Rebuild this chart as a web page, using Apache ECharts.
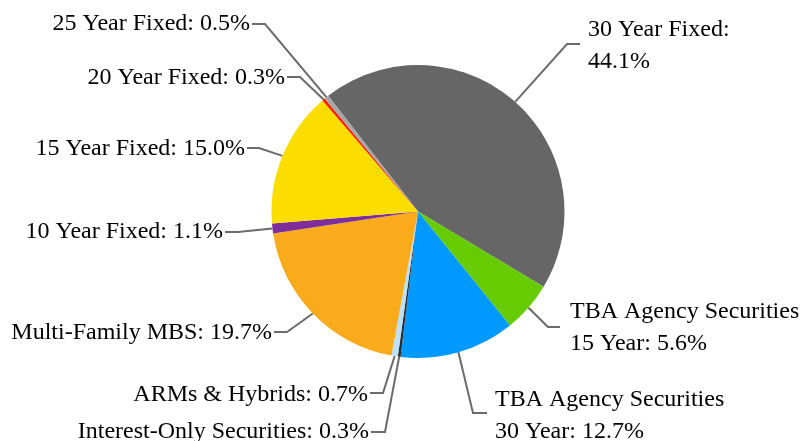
<!DOCTYPE html>
<html>
<head>
<meta charset="utf-8">
<script src="https://cdn.jsdelivr.net/npm/echarts@6/dist/echarts.min.js"></script>
<style>
html,body{margin:0;padding:0;background:#fff;}
#chart{width:800px;height:441px;}
</style>
</head>
<body>
<div id="chart"></div>
<script>
// ---- data ----
var categories = [
  '30 Year Fixed',
  'TBA Agency Securities\n15 Year',
  'TBA Agency Securities\n30 Year',
  'Interest-Only Securities',
  'ARMs & Hybrids',
  'Multi-Family MBS',
  '10 Year Fixed',
  '15 Year Fixed',
  '20 Year Fixed',
  '25 Year Fixed'
];
var values = [44.1, 5.6, 12.7, 0.3, 0.7, 19.7, 1.1, 15.0, 0.3, 0.5];

// ---- styles ----
var colors = ['#666666', '#66CC00', '#0099FF', '#2b2b2b', '#BDE0F7',
              '#F9AB1C', '#7E2E9A', '#FCDD00', '#FF1A00', '#A6A6A6'];
var breakAfterColon = [true, false, false, false, false, false, false, false, false, false];
// label layout: text anchor (x,y), align, elbow point, line end point
var labelPos = [
  {x: 588, y: 46,  align: 'left',  elbow: [567, 44],  end: [580, 44]},
  {x: 570, y: 328, align: 'left',  elbow: [548, 327], end: [560, 327]},
  {x: 495, y: 416, align: 'left',  elbow: [473, 413], end: [487, 413]},
  {x: 369, y: 432, align: 'right', elbow: [385, 432], end: [371, 432]},
  {x: 368, y: 395, align: 'right', elbow: [383, 393], end: [370, 393]},
  {x: 272, y: 333, align: 'right', elbow: [287, 332], end: [274, 332]},
  {x: 223, y: 232, align: 'right', elbow: [238, 232], end: [225, 232]},
  {x: 245, y: 149, align: 'right', elbow: [259, 148], end: [247, 148]},
  {x: 285, y: 78,  align: 'right', elbow: [300, 77],  end: [287, 77]},
  {x: 250, y: 24,  align: 'right', elbow: [265, 24],  end: [252, 24]}
];

var seriesData = categories.map(function (c, i) {
  return {name: c, value: values[i], itemStyle: {color: colors[i]}};
});

var chart = echarts.init(document.getElementById('chart'), null, {renderer: 'canvas'});
chart.setOption({
  backgroundColor: '#ffffff',
  animation: false,
  series: [{
    type: 'pie',
    center: [418, 211.5],
    radius: [0, 146.5],
    startAngle: 127.8,
    clockwise: true,
    avoidLabelOverlap: false,
    data: seriesData,
    itemStyle: {borderWidth: 0},
    emphasis: {disabled: true},
    label: {
      show: true,
      position: 'outside',
      overflow: 'none',
      color: '#000000',
      fontFamily: '"Liberation Serif", "Times New Roman", serif',
      fontSize: 24,
      lineHeight: 32,
      formatter: function (p) {
        var i = p.dataIndex;
        return p.name + ':' + (breakAfterColon[i] ? '\n' : ' ') + values[i].toFixed(1) + '%';
      }
    },
    labelLine: {
      show: true,
      length: 10,
      length2: 10,
      smooth: false,
      lineStyle: {color: '#6b6b6b', width: 2}
    },
    labelLayout: function (params) {
      var lp = labelPos[params.dataIndex];
      var start = params.labelLinePoints ? params.labelLinePoints[0] : lp.elbow;
      return {
        x: lp.x,
        y: lp.y,
        align: lp.align,
        verticalAlign: 'middle',
        labelLinePoints: [start, lp.elbow, lp.end]
      };
    }
  }]
});
</script>
</body>
</html>
